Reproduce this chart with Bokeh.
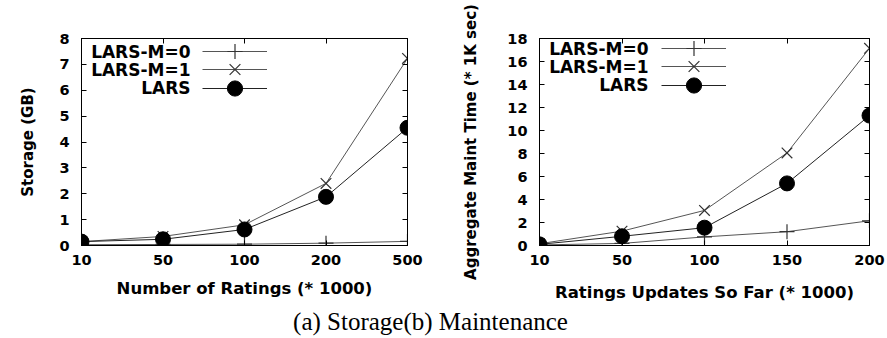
from bokeh.plotting import figure
from bokeh.models import Range1d, FixedTicker, LinearAxis, Label, Legend, LegendItem
from bokeh.layouts import column, row
from bokeh.embed import file_html
from bokeh.resources import INLINE

# ---------------- data ----------------
series_names = ["LARS-M=0", "LARS-M=1", "LARS"]

storage_x = ["10", "50", "100", "200", "500"]
storage_m0 = [0.03, 0.04, 0.05, 0.09, 0.16]
storage_m1 = [0.15, 0.35, 0.80, 2.40, 7.23]
storage_lars = [0.15, 0.24, 0.62, 1.88, 4.55]
storage_yticks = [0, 1, 2, 3, 4, 5, 6, 7, 8]

maint_x = ["10", "50", "100", "150", "200"]
maint_m0 = [0.05, 0.18, 0.75, 1.20, 2.15]
maint_m1 = [0.15, 1.25, 3.05, 8.05, 17.15]
maint_lars = [0.10, 0.80, 1.55, 5.40, 11.30]
maint_yticks = [0, 2, 4, 6, 8, 10, 12, 14, 16, 18]

caption_text = "(a) Storage(b) Maintenance"

FONT = "DejaVu Sans"
H = 306


def make_panel(cats, ys, yticks, xlabel, ylabel, width, height, left, right, top, bottom,
               ylabel_standoff, xlabel_standoff):
    xs = list(range(len(cats)))
    p = figure(width=width, height=height, output_backend="svg", toolbar_location=None,
               x_range=Range1d(xs[0], xs[-1]), y_range=Range1d(yticks[0], yticks[-1]),
               min_border_left=left, min_border_right=right, min_border_top=top,
               min_border_bottom=bottom, background_fill_color="white",
               border_fill_color="white")
    p.outline_line_color = "black"
    p.outline_line_width = 1
    p.xgrid.visible = False
    p.ygrid.visible = False

    p.xaxis.ticker = FixedTicker(ticks=xs)
    p.yaxis.ticker = FixedTicker(ticks=yticks)
    p.xaxis.major_label_overrides = {i: c for i, c in zip(xs, cats)}
    for ax in (p.xaxis[0], p.yaxis[0]):
        ax.major_tick_in = 5
        ax.major_tick_out = 0
        ax.minor_tick_line_color = None
        ax.axis_line_color = "black"
        ax.major_tick_line_color = "black"
        ax.major_label_text_font = FONT
        ax.major_label_text_font_style = "bold"
        ax.major_label_text_font_size = "14.5px"
        ax.major_label_text_color = "black"
        ax.axis_label_text_font = FONT
        ax.axis_label_text_font_style = "bold"
        ax.axis_label_text_color = "black"
    p.xaxis.axis_label = xlabel
    p.xaxis.axis_label_text_font_size = "16.5px"
    p.xaxis.major_label_standoff = 9
    p.xaxis.axis_label_standoff = xlabel_standoff
    p.yaxis.axis_label = ylabel
    p.yaxis.axis_label_text_font_size = "15px"
    p.yaxis.major_label_standoff = 12
    p.yaxis.axis_label_standoff = ylabel_standoff

    # mirrored ticks on top and right (gnuplot style)
    top_ax = LinearAxis(ticker=FixedTicker(ticks=xs),
                        major_label_overrides={i: "" for i in xs})
    right_ax = LinearAxis(ticker=FixedTicker(ticks=yticks),
                          major_label_overrides={t: "" for t in yticks})
    for ax in (top_ax, right_ax):
        ax.major_tick_in = 5
        ax.major_tick_out = 0
        ax.minor_tick_line_color = None
        ax.major_label_standoff = 0
        ax.major_label_text_font_size = "1px"
        ax.axis_line_color = "black"
    p.add_layout(top_ax, "above")
    p.add_layout(right_ax, "right")

    styles = [
        dict(marker="cross", line="#555555", mk="#333333", fill=None),
        dict(marker="x", line="#555555", mk="#333333", fill=None),
        dict(marker="circle", line="#222222", mk="black", fill="black"),
    ]
    items = []
    for y, st in zip(ys, styles):
        lr = p.line(xs, y, line_color=st["line"], line_width=1)
        if st["fill"] is None:
            sr = p.scatter(xs, y, marker=st["marker"], size=15, line_color=st["mk"],
                           line_width=1.2, fill_color=None)
        else:
            sr = p.scatter(xs, y, marker=st["marker"], size=15, line_color=st["mk"],
                           fill_color=st["fill"])
        items.append(LegendItem(label=" ", renderers=[lr, sr]))
    return p, items


p1, items1 = make_panel(storage_x, [storage_m0, storage_m1, storage_lars], storage_yticks,
                        "Number of Ratings (* 1000)", "Storage (GB)",
                        437, H, 81, 30, 38, H - 245, 19, 11)
p2, items2 = make_panel(maint_x, [maint_m0, maint_m1, maint_lars], maint_yticks,
                        "Ratings Updates So Far (* 1000)", "Aggregate Maint Time (* 1K sec)",
                        450, H, 102, 18, 38, H - 248, 24, 15)


def add_legend(p, items, frame_h, sample_left, text_right):
    for i, (item, name) in enumerate(zip(items, series_names)):
        leg = Legend(items=[item], location=(sample_left, round(frame_h - 32 - 18.3 * i)),
                     orientation="vertical", glyph_width=65, glyph_height=38, spacing=0,
                     padding=0, margin=0, label_standoff=0, label_width=0, label_height=0,
                     label_text_font_size="1px", border_line_color=None,
                     background_fill_alpha=0)
        p.add_layout(leg)
        p.add_layout(Label(x=text_right, y=frame_h - 13 - 18.3 * i, x_units="screen",
                           y_units="screen", text=name, text_align="right",
                           text_baseline="middle", text_font=FONT, text_font_style="bold",
                           text_font_size="17px", text_color="black"))


add_legend(p1, items1, 207, 121, 109)
add_legend(p2, items2, 210, 122, 109)

# ---------- caption ----------
CH = 338 - H
pc = figure(width=887, height=CH, output_backend="svg", toolbar_location=None,
            x_range=Range1d(0, 887), y_range=Range1d(0, CH),
            x_axis_location=None, y_axis_location=None, min_border=0)
pc.outline_line_color = None
pc.xgrid.visible = False
pc.ygrid.visible = False
pc.add_layout(Label(x=430, y=CH / 2 + 1, x_units="screen", y_units="screen",
                    text=caption_text, text_align="center", text_baseline="middle",
                    text_font="Liberation Serif", text_font_size="25px", text_color="black"))

layout = column(row(p1, p2), pc)
open("out.html", "w").write(file_html(layout, INLINE))
